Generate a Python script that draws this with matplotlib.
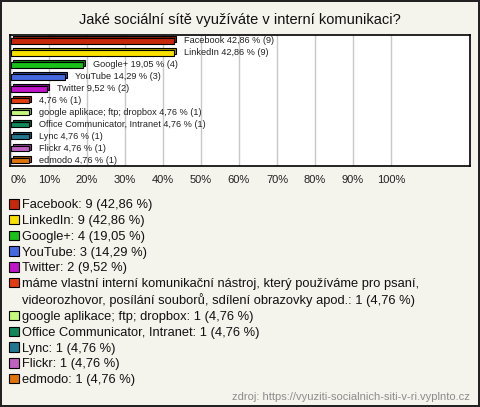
import matplotlib
matplotlib.use("Agg")
import matplotlib.pyplot as plt
from matplotlib.patches import Patch

plt.rcParams['font.family'] = ['Liberation Sans', 'DejaVu Sans']

title = "Jaké sociální sítě využíváte v interní komunikaci?"
names = ["Facebook", "LinkedIn", "Google+", "YouTube", "Twitter",
         "máme vlastní interní komunikační nástroj, který používáme pro psaní,\n"
         "videorozhovor, posílání souborů, sdílení obrazovky apod.",
         "google aplikace; ftp; dropbox", "Office Communicator, Intranet",
         "Lync", "Flickr", "edmodo"]
bar_names = ["Facebook", "LinkedIn", "Google+", "YouTube", "Twitter", "",
             "google aplikace; ftp; dropbox", "Office Communicator, Intranet",
             "Lync", "Flickr", "edmodo"]
counts = [9, 9, 4, 3, 2, 1, 1, 1, 1, 1, 1]
percents = [42.86, 42.86, 19.05, 14.29, 9.52, 4.76, 4.76, 4.76, 4.76, 4.76, 4.76]
colors = ["#c8280a", "#f8e000", "#18c018", "#4468e0", "#c014c8", "#e03c10",
          "#c4f878", "#10885a", "#207890", "#c060c0", "#e07408"]
tick_vals = [0, 10, 20, 30, 40, 50, 60, 70, 80, 90, 100]
source = "zdroj: https://vyuziti-socialnich-siti-v-ri.vyplnto.cz"


def fmt(v):
    return f"{v:.2f}".replace(".", ",")


fig = plt.figure(figsize=(4.8, 4.07), dpi=100)
fig.patch.set_facecolor("#f4f3ec")
fig.patch.set_edgecolor("#222222")
fig.patch.set_linewidth(1.5)

ax = fig.add_axes([10 / 480, 1 - 166 / 407, 460 / 480, 131 / 407])
ax.set_facecolor("white")
ypos = list(range(len(percents)))

# depth face of the pseudo-3D bars, then the front face
ax.barh([y - 0.16 for y in ypos], percents, left=0.5, height=0.45,
        color=colors, edgecolor="black", linewidth=0.8, zorder=2)
ax.barh([y - 0.16 for y in ypos], percents, left=0.5, height=0.45,
        color="black", alpha=0.35, linewidth=0, zorder=2)
ax.barh(ypos, percents, height=0.42, color=colors, edgecolor="black",
        linewidth=0.8, zorder=3)

for y, n, p, c in zip(ypos, bar_names, percents, counts):
    lab = (n + " " if n else "") + f"{fmt(p)} % ({c})"
    ax.annotate(lab, (p, y), xytext=(7, 0), textcoords="offset points",
                va="center", ha="left", fontsize=6.6, color="#222222", zorder=4)

ax.set_xlim(-0.26, 120.8)
ax.set_ylim(10.42, -0.5)
ax.set_yticks([])
ax.set_xticks(tick_vals)
ax.set_xticklabels([f"{t}%" for t in tick_vals], fontsize=8, color="#222222")
ax.get_xticklabels()[0].set_ha("left")
ax.tick_params(axis="x", length=0, pad=6.5)
ax.grid(axis="x", color="#c8c8c8", linewidth=1, zorder=1)
for s in ax.spines.values():
    s.set_color("black")
    s.set_linewidth(1.2)

fig.text(0.5, 1 - 20 / 407, title, ha="center", va="center", fontsize=10.5,
         color="#111111")

# legend: long entry is split so that its square sits on the first line
handles, labels = [], []
for n, c, p, col in zip(names, counts, percents, colors):
    lines = f"{n}: {c} ({fmt(p)} %)".split("\n")
    handles.append(Patch(facecolor=col, edgecolor="black", linewidth=0.8))
    labels.append(lines[0])
    for extra in lines[1:]:
        handles.append(Patch(facecolor="none", edgecolor="none"))
        labels.append(extra)
leg = fig.legend(handles, labels, loc="upper left",
                 bbox_to_anchor=(4 / 480, 1 - 194 / 407), frameon=False,
                 fontsize=9.3, handlelength=0.75, handleheight=0.75,
                 handletextpad=0.25, labelspacing=0.27, borderaxespad=0)
for t in leg.get_texts():
    t.set_color("#111111")

fig.text(470 / 480, 1 - 397 / 407, source, ha="right", va="center",
         fontsize=8, color="#8c8c8c")

fig.savefig("out.png", dpi=100, facecolor=fig.get_facecolor(),
            edgecolor=fig.get_edgecolor())
